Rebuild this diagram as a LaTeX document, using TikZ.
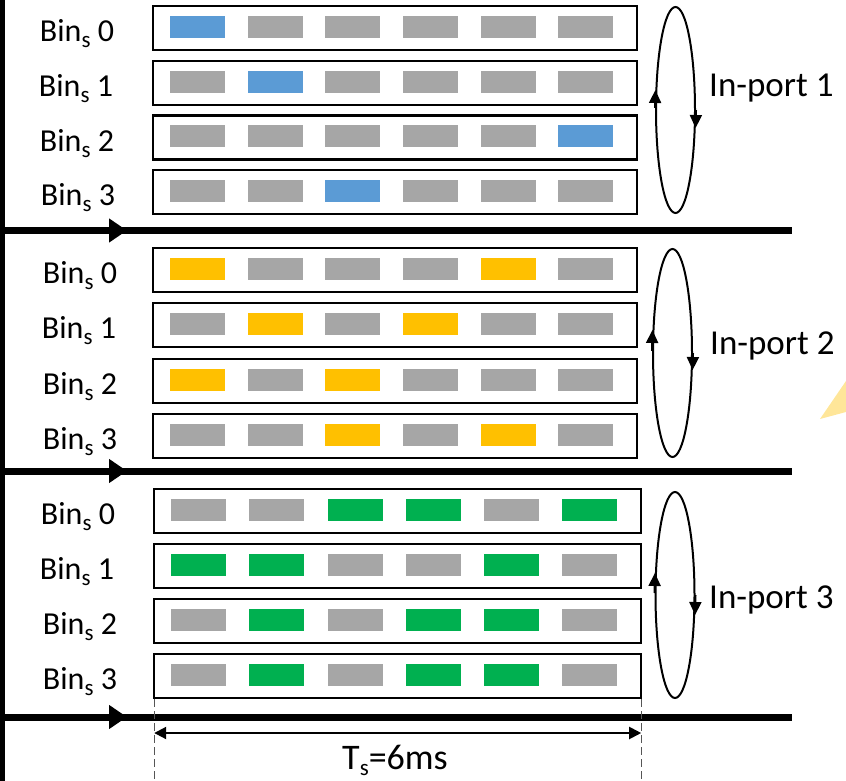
\documentclass[tikz,border=0pt]{standalone}
\usepackage{fontspec}
\setmainfont{Carlito}
\usetikzlibrary{arrows.meta,shapes.geometric}

\definecolor{slotgray}{HTML}{A6A6A6}
\definecolor{slotblue}{HTML}{5B9BD5}
\definecolor{slotyellow}{HTML}{FFC000}
\definecolor{slotgreen}{HTML}{00B050}
\definecolor{hintyellow}{HTML}{FFE699}
\definecolor{dimgray}{HTML}{555555}

% lowered small "s" used in the labels
\newcommand{\lowS}{\raisebox{-6pt}{\fontsize{23}{23}\selectfont s}}

\tikzset{
  binbox/.style={draw=black, line width=2.4pt, minimum height=44pt,
    anchor=north west, inner sep=0pt},
  slot/.style={minimum width=55pt, minimum height=22pt, inner sep=0pt, anchor=west},
  binlabel/.style={font=\fontsize{32}{32}\selectfont, anchor=base, inner sep=0pt},
  portlabel/.style={font=\fontsize{35}{35}\selectfont, anchor=base west, inner sep=0pt},
  cyclering/.style={ellipse, draw=black, line width=2pt, minimum width=39pt,
    minimum height=206pt, inner sep=0pt},
  ringarrow/.style={line width=2pt, -{Triangle[length=13pt,width=12pt]}},
  timeline/.style={line width=7pt},
  timearrow/.style={line width=7pt, -{Triangle[length=18pt,width=23pt]}},
  guide/.style={draw=dimgray, line width=1.3pt, dash pattern=on 8pt off 4pt},
  span/.style={line width=2pt, {Triangle[length=12pt,width=12pt]}-{Triangle[length=12pt,width=12pt]}},
}

% one row of six slots: name, box left x, centre y, pitch, colours
\newcommand{\slotrow}[5]{%
  \foreach \c [count=\k from 0] in {#5} {
    \node[slot, fill=\c] (#1-\k) at ({#2+18+\k*#4}, #3) {};
  }}

\begin{document}
\begin{tikzpicture}[x=1pt, y=-1pt]
\useasboundingbox (0,0) rectangle (846,781);

% faint highlight at the right border
\fill[hintyellow] (820,419) -- (846,381) -- (846,412) -- cycle;

% left time axis
\coordinate (axtop) at (2.5,0);
\coordinate (axbot) at (2.5,781);
\draw[line width=5pt] (axtop) -- (axbot);

% ---------- In-port 1 ----------
\node[binbox, minimum width=484pt] (b10) at (152,5) {};
\node[binbox, minimum width=484pt] (b11) at (152,60) {};
\node[binbox, minimum width=484pt] (b12) at (152,114.5) {};
\node[binbox, minimum width=484pt] (b13) at (152,169) {};
\slotrow{s10}{152}{27}{77.6}{slotblue,slotgray,slotgray,slotgray,slotgray,slotgray}
\slotrow{s11}{152}{82}{77.6}{slotgray,slotblue,slotgray,slotgray,slotgray,slotgray}
\slotrow{s12}{152}{136.5}{77.6}{slotgray,slotgray,slotgray,slotgray,slotgray,slotblue}
\slotrow{s13}{152}{191}{77.6}{slotgray,slotgray,slotblue,slotgray,slotgray,slotgray}
\node[binlabel] (l10) at (77,41.5) {Bin\lowS{} 0};
\node[binlabel] (l11) at (76,96.5) {Bin\lowS{} 1};
\node[binlabel] (l12) at (77,151) {Bin\lowS{} 2};
\node[binlabel] (l13) at (78,205.5) {Bin\lowS{} 3};
\node[cyclering] (r1) at (675.5,110) {};
\draw[ringarrow] ([yshift=2pt]r1.west) -- ([shift={(0.4pt,20pt)}]r1.west);
\draw[ringarrow] ([yshift=0pt]r1.east) -- ([shift={(-0.4pt,-18pt)}]r1.east);
\node[portlabel] (p1) at (709,97) {In-port 1};
\coordinate (t1s) at (0,230.5);
\coordinate (t1e) at (792,230.5);
\coordinate (t1h) at (127,230.5);
\draw[timeline] (t1s) -- (t1e);
\draw[timearrow] (t1s) -- (t1h);

% ---------- In-port 2 ----------
\node[binbox, minimum width=484pt] (b20) at (152,247) {};
\node[binbox, minimum width=484pt] (b21) at (152,302) {};
\node[binbox, minimum width=484pt] (b22) at (152,357.5) {};
\node[binbox, minimum width=484pt] (b23) at (152,413) {};
\slotrow{s20}{152}{269}{77.6}{slotyellow,slotgray,slotgray,slotgray,slotyellow,slotgray}
\slotrow{s21}{152}{324}{77.6}{slotgray,slotyellow,slotgray,slotyellow,slotgray,slotgray}
\slotrow{s22}{152}{379.5}{77.6}{slotyellow,slotgray,slotyellow,slotgray,slotgray,slotgray}
\slotrow{s23}{152}{435}{77.6}{slotgray,slotgray,slotyellow,slotgray,slotyellow,slotgray}
\node[binlabel] (l20) at (80,283.5) {Bin\lowS{} 0};
\node[binlabel] (l21) at (79,338.5) {Bin\lowS{} 1};
\node[binlabel] (l22) at (80,394) {Bin\lowS{} 2};
\node[binlabel] (l23) at (80,449.5) {Bin\lowS{} 3};
\node[cyclering, minimum height=208pt] (r2) at (672.5,353) {};
\draw[ringarrow] ([yshift=2pt]r2.west) -- ([shift={(0.4pt,23pt)}]r2.west);
\draw[ringarrow] ([yshift=0pt]r2.east) -- ([shift={(-0.4pt,-17pt)}]r2.east);
\node[portlabel] (p2) at (710,354) {In-port 2};
\coordinate (t2s) at (0,471);
\coordinate (t2e) at (792,471);
\coordinate (t2h) at (127,471);
\draw[timeline] (t2s) -- (t2e);
\draw[timearrow] (t2s) -- (t2h);

% ---------- In-port 3 ----------
\node[binbox, minimum width=487pt] (b30) at (153,488) {};
\node[binbox, minimum width=487pt] (b31) at (153,543) {};
\node[binbox, minimum width=487pt] (b32) at (153,598) {};
\node[binbox, minimum width=487pt] (b33) at (153,653) {};
\slotrow{s30}{153}{510}{78.2}{slotgray,slotgray,slotgreen,slotgreen,slotgray,slotgreen}
\slotrow{s31}{153}{565}{78.2}{slotgreen,slotgreen,slotgray,slotgray,slotgreen,slotgray}
\slotrow{s32}{153}{620}{78.2}{slotgray,slotgreen,slotgray,slotgreen,slotgreen,slotgray}
\slotrow{s33}{153}{675}{78.2}{slotgray,slotgreen,slotgray,slotgreen,slotgreen,slotgray}
\node[binlabel] (l30) at (78,524.5) {Bin\lowS{} 0};
\node[binlabel] (l31) at (77,579.5) {Bin\lowS{} 1};
\node[binlabel] (l32) at (80,634.5) {Bin\lowS{} 2};
\node[binlabel] (l33) at (80,689.5) {Bin\lowS{} 3};
\node[cyclering] (r3) at (675,595) {};
\draw[ringarrow] ([yshift=2pt]r3.west) -- ([shift={(0.4pt,22pt)}]r3.west);
\draw[ringarrow] ([yshift=0pt]r3.east) -- ([shift={(-0.4pt,-20pt)}]r3.east);
\node[portlabel] (p3) at (709,608) {In-port 3};
\coordinate (t3s) at (0,717);
\coordinate (t3e) at (792,717);
\coordinate (t3h) at (127,717);
\draw[timeline] (t3s) -- (t3e);
\draw[timearrow] (t3s) -- (t3h);

% ---------- slot period ----------
\coordinate (gl) at ([xshift=1.2pt]b33.south west);
\coordinate (gr) at ([xshift=-1.2pt]b33.south east);
\coordinate (glb) at (gl |- 0,781);
\coordinate (grb) at (gr |- 0,781);
\draw[guide] (gl) -- (glb);
\draw[guide] (gr) -- (grb);
\coordinate (dl) at (gl |- 0,733);
\coordinate (dr) at (gr |- 0,733);
\draw[span] (dl) -- (dr);
\node[binlabel, font=\fontsize{36}{36}\selectfont] (ts) at (395,769) {T\lowS{}=6ms};
\end{tikzpicture}
\end{document}
